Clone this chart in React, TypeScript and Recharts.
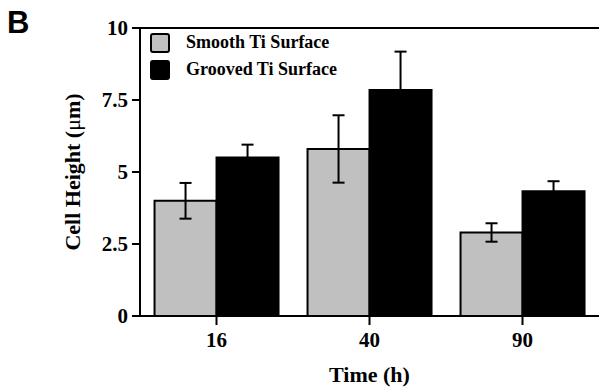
import { BarChart, Bar, XAxis, YAxis, ErrorBar, Legend, Label, ReferenceLine } from 'recharts';

const times = ['16', '40', '90'];
const smooth = [4.0, 5.8, 2.9];
const smoothErr = [0.62, 1.17, 0.32];
const grooved = [5.5, 7.85, 4.33];
const groovedErr = [0.45, 1.33, 0.35];
const yTicks = [0, 2.5, 5, 7.5, 10];
const seriesNames = ['Smooth Ti Surface', 'Grooved Ti Surface'];

const data = times.map((t, i) => ({
    time: t,
    smooth: smooth[i],
    smoothErr: smoothErr[i],
    grooved: grooved[i],
    groovedErr: groovedErr[i],
}));

const serif = '"Liberation Serif", "Times New Roman", serif';

const LegendBox = ({ payload }: any) => {
    const items = [...(payload || [])].sort(
        (a: any, b: any) => seriesNames.indexOf(a.value) - seriesNames.indexOf(b.value)
    );
    return (
        <div style={{ fontFamily: serif, fontWeight: 'bold', fontSize: 18 }}>
            {items.map((p: any) => (
                <div key={p.value} style={{ display: 'flex', alignItems: 'center', height: 27 }}>
                    <svg width={20} height={20} style={{ marginRight: 16 }}>
                        <rect x={1} y={1} width={18} height={18} rx={2} fill={p.color} stroke="#000" strokeWidth={2} />
                    </svg>
                    <span>{p.value}</span>
                </div>
            ))}
        </div>
    );
};

const YLabel = ({ viewBox }: any) => {
    const cx = 72;
    const cy = viewBox.y + viewBox.height / 2;
    return (
        <text
            x={cx}
            y={cy}
            transform={`rotate(-90 ${cx} ${cy})`}
            textAnchor="middle"
            dy="0.35em"
            fontFamily={serif}
            fontWeight="bold"
            fontSize={22}
            fill="#000"
        >
            Cell Height (<tspan fontWeight="normal">μ</tspan>m)
        </text>
    );
};

const App = () => {
    const tickStyle = { fontFamily: serif, fontWeight: 'bold', fontSize: 21, fill: '#000' };
    return (
        <div style={{ position: 'absolute', left: 0, top: 0, width: 599, height: 387, background: '#fff' }}>
            <div
                style={{
                    position: 'absolute',
                    left: 7,
                    top: 7,
                    fontFamily: '"Liberation Sans", Arial, sans-serif',
                    fontWeight: 'bold',
                    fontSize: 31,
                    lineHeight: '31px',
                }}
            >
                B
            </div>
            <BarChart
                width={599}
                height={387}
                data={data}
                margin={{ top: 28, right: 0, left: 0, bottom: 0 }}
                barCategoryGap="9.5%"
                barGap={0}
            >
                <XAxis
                    dataKey="time"
                    height={71}
                    stroke="#000"
                    strokeWidth={2}
                    tickSize={9}
                    tickMargin={7}
                    tick={tickStyle}
                >
                    <Label
                        value="Time (h)"
                        position="insideBottom"
                        offset={5}
                        style={{ fontFamily: serif, fontWeight: 'bold', fontSize: 22, fill: '#000' }}
                    />
                </XAxis>
                <YAxis
                    width={140}
                    domain={[0, 10]}
                    ticks={yTicks}
                    interval={0}
                    stroke="#000"
                    strokeWidth={2}
                    tickSize={8}
                    tickMargin={4}
                    tick={tickStyle}
                >
                    <Label content={<YLabel />} />
                </YAxis>
                <ReferenceLine y={10} stroke="#000" strokeWidth={2} />
                <Legend
                    layout="vertical"
                    align="center"
                    verticalAlign="middle"
                    wrapperStyle={{ left: 150, top: 29, width: 280 }}
                    content={<LegendBox />}
                />
                <Bar dataKey="smooth" name="Smooth Ti Surface" fill="#c0c0c0" stroke="#000" strokeWidth={2} isAnimationActive={false}>
                    <ErrorBar dataKey="smoothErr" width={6} stroke="#000" strokeWidth={2} />
                </Bar>
                <Bar dataKey="grooved" name="Grooved Ti Surface" fill="#000" stroke="#000" strokeWidth={2} isAnimationActive={false}>
                    <ErrorBar dataKey="groovedErr" width={6} stroke="#000" strokeWidth={2} />
                </Bar>
            </BarChart>
        </div>
    );
};

export default App;
